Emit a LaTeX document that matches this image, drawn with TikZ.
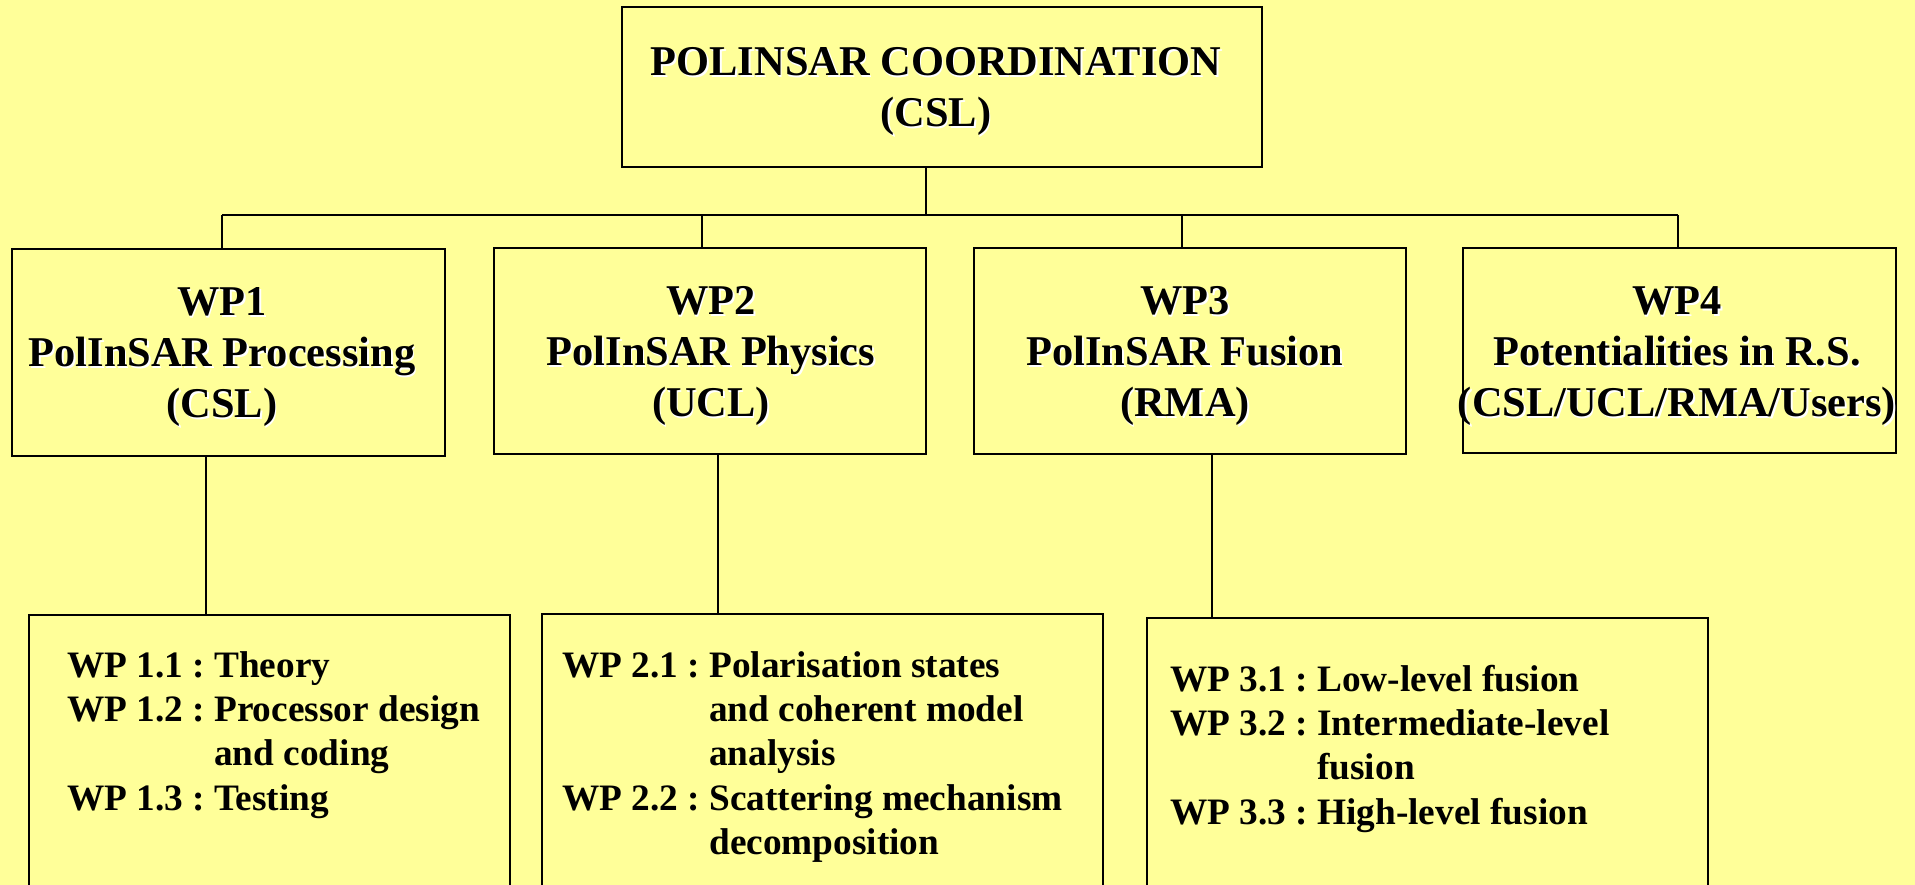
\documentclass[tikz,border=0pt]{standalone}
\usepackage{fontspec}
\setmainfont{Liberation Serif}
\definecolor{bg}{HTML}{FFFF99}
\newcommand{\shw}[1]{\makebox[0pt][l]{\hspace{1.5pt}\raisebox{-1.5pt}{\color{white}#1}}#1}
\begin{document}
\begin{tikzpicture}[x=1pt,y=1pt,
  box/.style={draw=black, line width=2pt, fill=bg, inner sep=0pt, rectangle},
  conn/.style={draw=black, line width=2pt},
  headtxt/.style={inner sep=0pt, anchor=base, font=\fontsize{42.4}{51}\selectfont\bfseries},
  subtxt/.style={inner sep=0pt, anchor=base west, font=\fontsize{37.3}{44.4}\selectfont\bfseries}]
\useasboundingbox (0,0) rectangle (1915,-885);
\clip (0,0) rectangle (1915,-885);
\fill[bg] (0,0) rectangle (1915,-885);

% boxes
\node[box, minimum width=640, minimum height=160] (top) at (942,-87) {};
\node[box, minimum width=433, minimum height=207] (wp1) at (228.5,-352.5) {};
\node[box, minimum width=432, minimum height=206] (wp2) at (710,-351) {};
\node[box, minimum width=432, minimum height=206] (wp3) at (1190,-351) {};
\node[box, minimum width=433, minimum height=205] (wp4) at (1679.5,-350.5) {};
\node[box, minimum width=481, minimum height=320] (sub1) at (269.5,-775) {};
\node[box, minimum width=561, minimum height=320] (sub2) at (822.5,-774) {};
\node[box, minimum width=561, minimum height=320] (sub3) at (1427.5,-778) {};

% connector coordinates
\coordinate (b0) at (926,-215);
\coordinate (b1) at (222,-215);
\coordinate (b2) at (702,-215);
\coordinate (b3) at (1182,-215);
\coordinate (b4) at (1678,-215);
\coordinate (l1) at (206,0);
\coordinate (l2) at (718,0);
\coordinate (l3) at (1212,0);

\draw[conn] (top.south -| b0) -- (b0);
\draw[conn] (b1) -- (b4);
\draw[conn] (b1) -- (wp1.north -| b1);
\draw[conn] (b2) -- (wp2.north -| b2);
\draw[conn] (b3) -- (wp3.north -| b3);
\draw[conn] (b4) -- (wp4.north -| b4);
\draw[conn] (wp1.south -| l1) -- (sub1.north -| l1);
\draw[conn] (wp2.south -| l2) -- (sub2.north -| l2);
\draw[conn] (wp3.south -| l3) -- (sub3.north -| l3);

% texts
\node[headtxt] (toptxt) at (936,-76) {\begin{tabular}[t]{@{}c@{}}\shw{POLINSAR COORDINATION}\\\shw{(CSL)}\end{tabular}};
\node[headtxt] (wp1txt) at (222,-316) {\begin{tabular}[t]{@{}c@{}}\shw{WP1}\\\shw{PolInSAR Processing}\\\shw{(CSL)}\end{tabular}};
\node[headtxt] (wp2txt) at (711,-315) {\begin{tabular}[t]{@{}c@{}}\shw{WP2}\\\shw{PolInSAR Physics}\\\shw{(UCL)}\end{tabular}};
\node[headtxt] (wp3txt) at (1185,-315) {\begin{tabular}[t]{@{}c@{}}\shw{WP3}\\\shw{PolInSAR Fusion}\\\shw{(RMA)}\end{tabular}};
\node[headtxt] (wp4txt) at (1677,-315) {\begin{tabular}[t]{@{}c@{}}\shw{WP4}\\\shw{Potentialities in R.S.}\\\shw{(CSL/UCL/RMA/Users)}\end{tabular}};

\node[subtxt] (sub1txt) at (67,-677) {\begin{tabular}[t]{@{}l@{\hspace{0.25em}}l@{}}WP 1.1 : & Theory\\WP 1.2 : & Processor design\\ & and coding\\WP 1.3 : & Testing\end{tabular}};
\node[subtxt] (sub2txt) at (562,-677) {\begin{tabular}[t]{@{}l@{\hspace{0.25em}}l@{}}WP 2.1 : & Polarisation states\\ & and coherent model\\ & analysis\\WP 2.2 : & Scattering mechanism\\ & decomposition\end{tabular}};
\node[subtxt] (sub3txt) at (1170,-691) {\begin{tabular}[t]{@{}l@{\hspace{0.25em}}l@{}}WP 3.1 : & Low-level fusion\\WP 3.2 : & Intermediate-level\\ & fusion\\WP 3.3 : & High-level fusion\end{tabular}};
\end{tikzpicture}
\end{document}
